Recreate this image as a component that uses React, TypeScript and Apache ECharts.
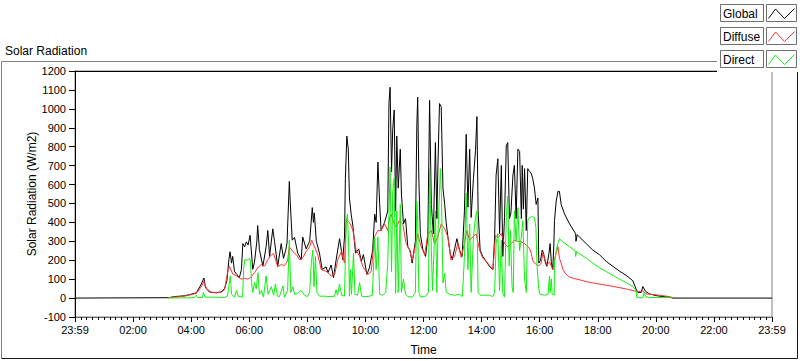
import React, { useEffect, useRef } from "react";
import * as echarts from "echarts";

// x axis: hours since 23:59 of the previous day (0..24)
const xTickLabels = ["23:59", "02:00", "04:00", "06:00", "08:00", "10:00", "12:00", "14:00", "16:00", "18:00", "20:00", "22:00", "23:59"];
const seriesNames = ["Global", "Diffuse", "Direct"];
const seriesColors = ["#000000", "#ff3333", "#10f010"];

const globalData: [number, number][] = [
  [0, 0], [3.22, 2], [3.43, 8], [3.77, 12], [3.94, 18], [4.18, 28], [4.35, 74], [4.44, 106], [4.49, 56], [4.63, 32], [4.86, 28], [5.03, 32], [5.15, 50], [5.23, 91], [5.3, 203], [5.34, 245], [5.39, 185], [5.43, 220], [5.49, 142], [5.57, 125], [5.66, 108], [5.73, 151], [5.78, 288], [5.84, 271], [5.9, 297], [5.96, 280], [6.03, 332], [6.12, 152], [6.18, 190], [6.26, 297], [6.29, 383], [6.35, 256], [6.47, 168], [6.58, 271], [6.64, 357], [6.7, 220], [6.81, 366], [6.87, 300], [6.98, 168], [7.1, 288], [7.18, 210], [7.25, 250], [7.3, 290], [7.38, 616], [7.41, 512], [7.48, 306], [7.56, 320], [7.67, 237], [7.79, 203], [7.84, 323], [7.96, 260], [8.08, 300], [8.17, 478], [8.21, 400], [8.24, 450], [8.31, 300], [8.42, 237], [8.51, 151], [8.65, 165], [8.71, 134], [8.82, 175], [8.9, 108], [8.99, 200], [9.11, 314], [9.22, 203], [9.28, 323], [9.31, 633], [9.36, 856], [9.41, 787], [9.45, 529], [9.51, 443], [9.57, 380], [9.66, 237], [9.77, 260], [9.86, 194], [9.93, 230], [10.05, 125], [10.14, 160], [10.25, 254], [10.32, 443], [10.37, 400], [10.43, 719], [10.49, 500], [10.54, 357], [10.66, 400], [10.77, 461], [10.81, 1028], [10.85, 1114], [10.9, 667], [10.94, 891], [10.99, 994], [11.04, 461], [11.08, 856], [11.13, 581], [11.2, 787], [11.24, 550], [11.31, 392], [11.38, 420], [11.46, 271], [11.54, 250], [11.61, 185], [11.72, 300], [11.77, 908], [11.8, 1062], [11.84, 633], [11.89, 340], [11.98, 254], [12.07, 220], [12.15, 323], [12.21, 1045], [12.27, 495], [12.34, 340], [12.41, 822], [12.46, 420], [12.49, 650], [12.55, 1028], [12.61, 1011], [12.67, 581], [12.73, 495], [12.78, 400], [12.84, 323], [12.92, 237], [12.99, 203], [13.07, 260], [13.15, 314], [13.24, 254], [13.33, 220], [13.41, 461], [13.47, 865], [13.53, 480], [13.59, 787], [13.64, 426], [13.72, 633], [13.79, 779], [13.84, 959], [13.88, 461], [13.95, 254], [14.04, 220], [14.16, 194], [14.27, 168], [14.39, 151], [14.45, 323], [14.5, 650], [14.56, 736], [14.62, 340], [14.68, 701], [14.73, 220], [14.79, 426], [14.85, 804], [14.9, 822], [14.96, 420], [15.01, 450], [15.08, 650], [15.13, 701], [15.19, 420], [15.25, 787], [15.31, 775], [15.37, 420], [15.4, 701], [15.44, 470], [15.48, 684], [15.54, 357], [15.59, 684], [15.65, 670], [15.71, 658], [15.76, 633], [15.82, 581], [15.88, 495], [15.94, 529], [15.97, 185], [16.03, 200], [16.09, 254], [16.13, 240], [16.2, 185], [16.25, 168], [16.32, 237], [16.36, 288], [16.4, 190], [16.45, 151], [16.49, 290], [16.51, 409], [16.57, 512], [16.63, 564], [16.68, 564], [16.74, 495], [16.86, 443], [17.03, 392], [17.24, 340], [17.25, 300], [17.29, 335], [17.37, 323], [17.6, 288], [17.83, 254], [18.06, 229], [18.29, 194], [18.52, 168], [18.75, 142], [18.98, 120], [19.21, 91], [19.32, 48], [19.38, 30], [19.5, 30], [19.55, 61], [19.65, 35], [19.78, 22], [20.01, 13], [20.24, 8], [20.47, 5], [20.59, 0], [24, 0],
];

const diffuseData: [number, number][] = [
  [3.22, 2], [3.77, 10], [4.18, 25], [4.35, 60], [4.44, 88], [4.53, 50], [4.7, 30], [5.03, 30], [5.15, 45], [5.26, 142], [5.32, 168], [5.43, 127], [5.57, 117], [5.72, 100], [5.84, 105], [5.95, 100], [6.04, 108], [6.18, 134], [6.29, 160], [6.41, 177], [6.53, 170], [6.64, 203], [6.76, 229], [6.84, 235], [6.98, 165], [7.1, 177], [7.21, 172], [7.32, 195], [7.38, 271], [7.5, 246], [7.62, 230], [7.73, 203], [7.83, 210], [7.96, 246], [8.08, 271], [8.15, 306], [8.25, 270], [8.36, 229], [8.48, 150], [8.65, 142], [8.82, 117], [8.94, 125], [9.05, 203], [9.17, 246], [9.28, 185], [9.34, 417], [9.45, 400], [9.57, 357], [9.68, 254], [9.8, 220], [9.91, 168], [10.08, 125], [10.2, 140], [10.31, 323], [10.43, 357], [10.54, 357], [10.66, 392], [10.77, 357], [10.83, 426], [10.89, 443], [10.97, 400], [11.06, 375], [11.17, 409], [11.29, 390], [11.4, 288], [11.52, 254], [11.61, 200], [11.69, 254], [11.8, 340], [11.92, 271], [12.04, 230], [12.15, 340], [12.27, 357], [12.38, 288], [12.49, 323], [12.61, 392], [12.73, 366], [12.84, 323], [12.95, 200], [13.07, 220], [13.18, 288], [13.3, 215], [13.41, 288], [13.49, 357], [13.59, 306], [13.7, 323], [13.81, 340], [13.93, 254], [14.04, 211], [14.21, 185], [14.39, 150], [14.48, 332], [14.57, 320], [14.68, 340], [14.79, 288], [14.9, 271], [15.02, 288], [15.13, 306], [15.25, 300], [15.37, 297], [15.48, 288], [15.59, 271], [15.65, 263], [15.71, 237], [15.76, 200], [15.82, 185], [15.9, 177], [15.97, 170], [16.05, 185], [16.11, 237], [16.17, 210], [16.25, 177], [16.34, 190], [16.45, 150], [16.51, 203], [16.57, 240], [16.63, 271], [16.68, 210], [16.74, 185], [16.8, 151], [16.91, 125], [17.03, 111], [17.17, 104], [17.37, 97], [17.6, 87], [17.95, 77], [18.29, 68], [18.52, 62], [18.98, 48], [19.32, 36], [19.5, 35], [19.55, 39], [19.67, 22], [19.96, 18], [20.24, 13], [20.53, 5], [20.59, 0],
];

const directData: [number, number][] = [
  [3.22, 0], [4.11, 2], [4.17, 15], [4.22, 3], [4.39, 3], [4.42, 30], [4.48, 5], [4.8, 5], [5.15, 3], [5.25, 10], [5.3, 65], [5.35, 117], [5.39, 20], [5.49, 5], [5.56, 40], [5.62, 10], [5.77, 5], [5.81, 160], [5.85, 203], [5.94, 200], [6.01, 211], [6.04, 195], [6.08, 82], [6.12, 30], [6.18, 82], [6.24, 50], [6.3, 134], [6.35, 20], [6.42, 40], [6.49, 5], [6.58, 117], [6.65, 20], [6.76, 60], [6.84, 15], [6.9, 74], [6.97, 10], [7.04, 8], [7.16, 65], [7.21, 5], [7.32, 40], [7.38, 306], [7.43, 30], [7.5, 60], [7.56, 20], [7.66, 25], [7.79, 40], [7.9, 15], [8.0, 8], [8.08, 30], [8.14, 194], [8.19, 254], [8.23, 60], [8.28, 220], [8.33, 30], [8.42, 10], [8.59, 10], [8.77, 8], [8.94, 10], [8.99, 44], [9.04, 15], [9.11, 74], [9.18, 15], [9.28, 10], [9.34, 409], [9.38, 443], [9.42, 300], [9.45, 10], [9.48, 151], [9.52, 20], [9.59, 237], [9.64, 20], [9.73, 15], [9.8, 82], [9.87, 10], [10.0, 8], [10.14, 10], [10.24, 15], [10.32, 323], [10.37, 150], [10.43, 323], [10.49, 20], [10.59, 15], [10.7, 30], [10.77, 185], [10.85, 693], [10.9, 140], [10.94, 564], [10.99, 633], [11.04, 25], [11.08, 461], [11.13, 30], [11.2, 495], [11.24, 30], [11.31, 100], [11.38, 20], [11.46, 8], [11.62, 5], [11.72, 30], [11.77, 512], [11.8, 400], [11.84, 30], [11.9, 5], [12.07, 10], [12.17, 30], [12.21, 684], [12.27, 250], [12.31, 40], [12.41, 461], [12.46, 30], [12.5, 350], [12.58, 684], [12.62, 530], [12.67, 80], [12.73, 130], [12.78, 30], [12.9, 20], [13.07, 15], [13.24, 20], [13.34, 8], [13.41, 220], [13.47, 555], [13.53, 150], [13.59, 392], [13.64, 30], [13.72, 323], [13.79, 426], [13.84, 461], [13.88, 30], [13.96, 15], [14.27, 15], [14.39, 8], [14.45, 30], [14.5, 288], [14.56, 340], [14.62, 40], [14.68, 306], [14.73, 25], [14.79, 5], [14.85, 426], [14.9, 538], [14.95, 170], [14.99, 357], [15.05, 60], [15.09, 30], [15.13, 461], [15.19, 300], [15.25, 478], [15.31, 250], [15.37, 323], [15.42, 409], [15.48, 100], [15.54, 30], [15.59, 409], [15.65, 426], [15.76, 430], [15.82, 426], [15.87, 375], [15.91, 170], [15.97, 48], [16.0, 22], [16.17, 15], [16.29, 20], [16.32, 82], [16.34, 117], [16.36, 30], [16.4, 100], [16.43, 20], [16.5, 15], [16.51, 185], [16.57, 254], [16.63, 288], [16.68, 314], [16.8, 297], [17.03, 271], [17.22, 250], [17.24, 220], [17.27, 246], [17.37, 235], [17.6, 211], [17.83, 185], [18.06, 160], [18.29, 140], [18.52, 120], [18.75, 100], [18.98, 82], [19.21, 60], [19.32, 42], [19.34, 5], [19.55, 0], [19.6, 30], [19.65, 8], [19.78, 3], [20.54, 2], [20.57, 0],
];

const FONT = "'Liberation Sans', Arial, sans-serif";

function legendElements() {
  const els: any[] = [
    { type: "rect", z: 100, shape: { x: 717, y: 0, width: 83, height: 72 }, style: { fill: "#ffffff", stroke: "none" } },
  ];
  seriesNames.forEach((name, i) => {
    const y0 = 4 + 23 * i;
    els.push({ type: "rect", z: 101, shape: { x: 720.5, y: y0 + 0.5, width: 43, height: 17 }, style: { fill: "#ffffff", stroke: "#6e6e6e", lineWidth: 1 } });
    els.push({ type: "text", z: 102, style: { text: name, x: 723, y: y0 + 9.5, verticalAlign: "middle", align: "left", font: `12px ${FONT}`, fill: "#000000" } });
    els.push({ type: "rect", z: 101, shape: { x: 766.5, y: y0 + 0.5, width: 30, height: 17 }, style: { fill: "#ffffff", stroke: "#6e6e6e", lineWidth: 1 } });
    els.push({ type: "polyline", z: 102, shape: { points: [[768.5, y0 + 14.5], [775.5, y0 + 5], [784.5, y0 + 14.5], [794.5, y0 + 4.5]] }, style: { stroke: seriesColors[i], lineWidth: 1, fill: "none" } });
  });
  return els;
}

export default function App() {
  const ref = useRef<HTMLDivElement>(null);
  useEffect(() => {
    if (!ref.current) return;
    const chart = echarts.init(ref.current, undefined, { renderer: "svg" });
    const datasets = [globalData, diffuseData, directData];
    chart.setOption({
      animation: false,
      backgroundColor: "#ffffff",
      grid: { left: 75, right: 28, top: 71, bottom: 39, show: true, borderColor: "#808080", borderWidth: 1, backgroundColor: "transparent" },
      xAxis: [
        {
          type: "value", min: 0, max: 24, interval: 2, position: "bottom",
          axisLine: { show: true, onZero: false, lineStyle: { color: "#6a6a6a", width: 1 } },
          axisTick: { show: true, length: 5, lineStyle: { color: "#000" } },
          minorTick: { show: true, splitNumber: 10, length: 3, lineStyle: { color: "#000" } },
          splitLine: { show: false }, minorSplitLine: { show: false },
          axisLabel: { formatter: (v: number) => xTickLabels[Math.round(v / 2)], fontSize: 11, color: "#000", margin: 7, fontFamily: FONT, showMinLabel: true, showMaxLabel: true },
          name: "Time", nameLocation: "middle", nameGap: 27, nameMoveOverlap: false,
          nameTextStyle: { fontSize: 12, color: "#000", fontFamily: FONT },
        },
        {
          type: "value", min: 0, max: 24, position: "top",
          axisLine: { show: true, onZero: false, lineStyle: { color: "#000", width: 1 } },
          axisTick: { show: false }, axisLabel: { show: false }, splitLine: { show: false },
        },
      ],
      yAxis: {
        type: "value", min: -100, max: 1200, interval: 100, position: "left",
        axisLine: { show: true, onZero: false, lineStyle: { color: "#000", width: 1 } },
        axisTick: { show: true, length: 6, lineStyle: { color: "#000" } },
        splitLine: { show: false },
        axisLabel: { formatter: (v: number) => String(v), fontSize: 11, color: "#000", margin: 9, fontFamily: FONT },
        name: "Solar Radiation (W/m2)", nameLocation: "middle", nameGap: 37, nameMoveOverlap: false,
        nameTextStyle: { fontSize: 12, color: "#000", fontFamily: FONT },
      },
      series: datasets.map((d, i) => ({
        name: seriesNames[i], type: "line", data: d, xAxisIndex: 0,
        showSymbol: false, symbol: "none", silent: true, clip: true,
        lineStyle: { width: 1, color: seriesColors[i] }, itemStyle: { color: seriesColors[i] },
      })),
      graphic: [
        { type: "line", shape: { x1: 1.5, y1: 61.5, x2: 717, y2: 61.5 }, style: { stroke: "#808080", lineWidth: 1 } },
        { type: "line", shape: { x1: 1.5, y1: 61.5, x2: 1.5, y2: 358.5 }, style: { stroke: "#808080", lineWidth: 1 } },
        { type: "line", shape: { x1: 1.5, y1: 358.5, x2: 797.5, y2: 358.5 }, style: { stroke: "#1a1a1a", lineWidth: 1 } },
        { type: "line", shape: { x1: 797.5, y1: 72, x2: 797.5, y2: 358.5 }, style: { stroke: "#1a1a1a", lineWidth: 1 } },
        { type: "text", style: { text: "Solar Radiation", x: 5, y: 51, verticalAlign: "middle", align: "left", font: `12px ${FONT}`, fill: "#000" } },
        ...legendElements(),
      ],
    });
    return () => chart.dispose();
  }, []);
  return (
    <div
      ref={ref}
      style={{ position: "fixed", left: 0, top: 0, width: 800, height: 361, background: "#fff" }}
    />
  );
}
